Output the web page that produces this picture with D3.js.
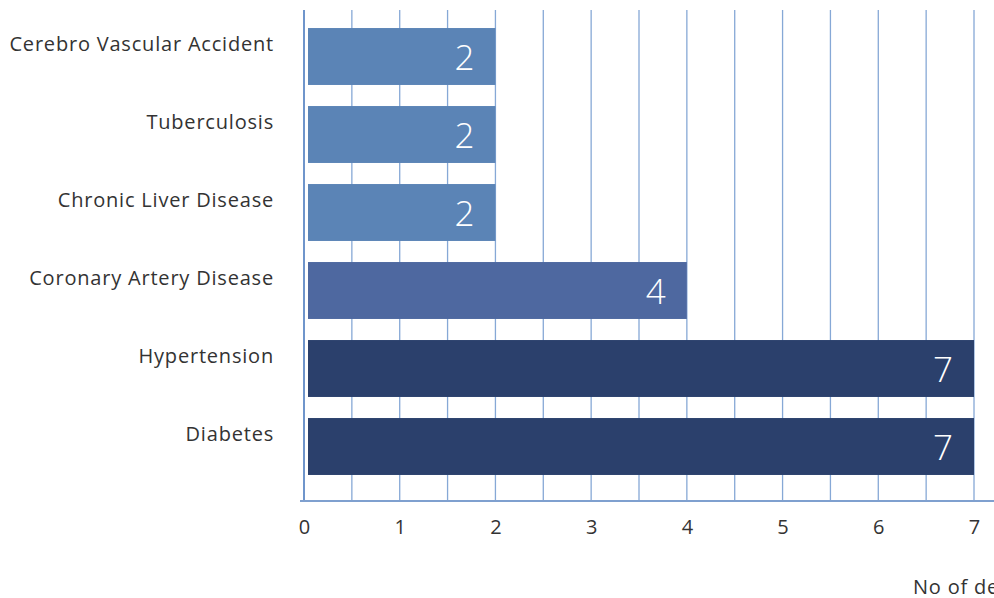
<!DOCTYPE html>
<html>
<head>
<meta charset="utf-8">
<script src="https://cdn.jsdelivr.net/npm/d3@7"></script>
<style>
  html, body { margin: 0; padding: 0; background: #fff; }
  svg { display: block; }
  text { font-family: "Open Sans", "Noto Sans", sans-serif; }
</style>
</head>
<body>
<svg id="chart" width="994" height="598"></svg>
<script>
// Causes of death and counts, top to bottom
const categories = ["Cerebro Vascular Accident", "Tuberculosis", "Chronic Liver Disease",
                    "Coronary Artery Disease", "Hypertension", "Diabetes"];
const deaths = [2, 2, 2, 4, 7, 7];
const barColors = ["#5b84b6", "#5b84b6", "#5b84b6", "#4e68a0", "#2b406c", "#2b406c"];
const tickValues = [0, 1, 2, 3, 4, 5, 6, 7];
const axisTitle = "No of deaths";

const svg = d3.select("#chart");

const x = d3.scaleLinear().domain([0, 7]).range([304, 974]);
const y = d3.scaleBand().domain(categories).range([17.5, 485.5])
  .paddingInner(0.27).paddingOuter(0.135);

const axisY = 501;
const gridTop = 10;

// vertical grid every half unit
const gridVals = d3.range(0.5, 7.01, 0.5);
svg.append("g").selectAll("line").data(gridVals).join("line")
  .attr("x1", d => x(d)).attr("x2", d => x(d))
  .attr("y1", gridTop).attr("y2", axisY)
  .attr("stroke", "#86a8d6").attr("stroke-width", 1.3);

// bars
svg.append("g").selectAll("rect").data(categories).join("rect")
  .attr("x", x(0) + 4)
  .attr("y", d => y(d))
  .attr("width", (d, i) => x(deaths[i]) - x(0) - 4)
  .attr("height", y.bandwidth())
  .attr("fill", (d, i) => barColors[i]);

// value labels inside bar ends
svg.append("g").selectAll("text").data(categories).join("text")
  .attr("x", (d, i) => x(deaths[i]) - 21)
  .attr("y", d => y(d) + y.bandwidth() / 2 + 13)
  .attr("text-anchor", "end")
  .attr("fill", "#fff")
  .attr("font-size", 35)
  .attr("font-weight", 300)
  .text((d, i) => deaths[i]);

// y axis line
svg.append("line")
  .attr("x1", x(0)).attr("x2", x(0))
  .attr("y1", gridTop).attr("y2", axisY)
  .attr("stroke", "#6f95cb").attr("stroke-width", 2);

// x axis line
svg.append("line")
  .attr("x1", 300).attr("x2", 994)
  .attr("y1", axisY).attr("y2", axisY)
  .attr("stroke", "#7fa0cf").attr("stroke-width", 2);

// category labels
svg.append("g").selectAll("text").data(categories).join("text")
  .attr("x", 274)
  .attr("y", d => y(d) + y.bandwidth() / 2 - 13 + 7)
  .attr("text-anchor", "end")
  .attr("fill", "#333")
  .attr("font-size", 20)
  .attr("letter-spacing", 0.8)
  .text(d => d);

// x tick labels
const xAxis = d3.axisBottom(x).tickValues(tickValues).tickFormat(d3.format("d"))
  .tickSize(0).tickPadding(0);
const gx = svg.append("g").attr("transform", `translate(0,${axisY})`).call(xAxis);
gx.select(".domain").remove();
gx.selectAll("text")
  .attr("y", 33).attr("dy", 0)
  .attr("fill", "#333")
  .attr("font-size", 20)
  .attr("font-family", "\"Open Sans\", \"Noto Sans\", sans-serif");

// axis title
svg.append("text")
  .attr("x", 913).attr("y", 594)
  .attr("fill", "#333")
  .attr("font-size", 20)
  .attr("letter-spacing", 0.8)
  .text(axisTitle);
</script>
</body>
</html>
